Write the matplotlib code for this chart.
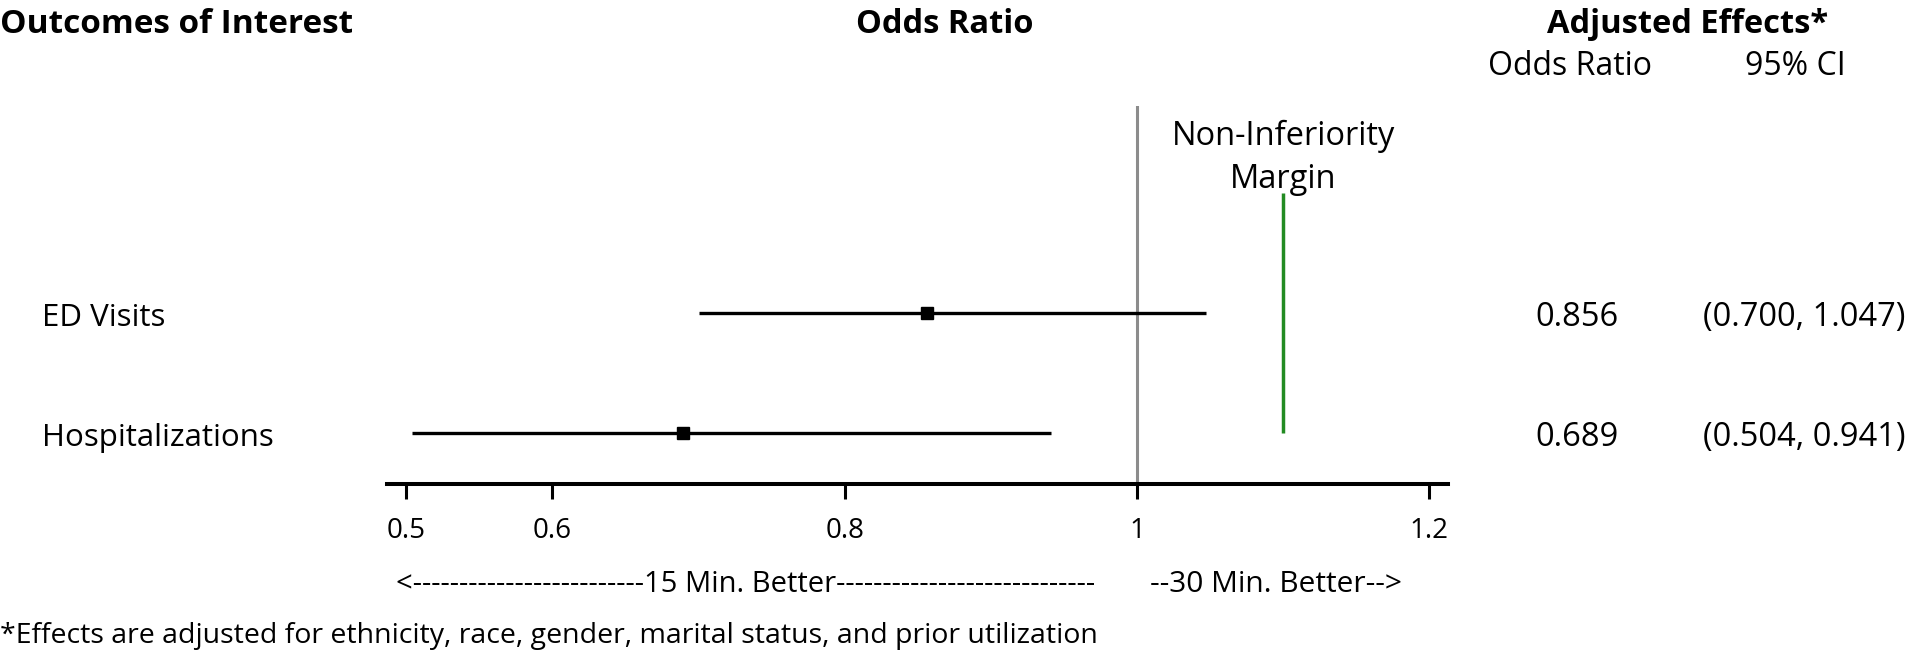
import matplotlib.pyplot as plt
from matplotlib.transforms import blended_transform_factory, offset_copy

plt.rcParams['font.family'] = ['Open Sans', 'DejaVu Sans']

# data
outcomes = ['ED Visits', 'Hospitalizations']
odds = [0.856, 0.689]
ci_low = [0.700, 0.504]
ci_high = [1.047, 0.941]
rows = [2, 1]
margin = 1.1
xticks = [0.5, 0.6, 0.8, 1, 1.2]
xticklabels = ['0.5', '0.6', '0.8', '1', '1.2']

W, H = 1912, 652
fig = plt.figure(figsize=(W / 100, H / 100), dpi=100)


def fx(px):
    return px / W


def fy(py):
    return 1 - py / H


ax = fig.add_axes([fx(387), fy(484), fx(1448) - fx(387), fy(106) - fy(484)])
ax.set_xlim(0.4868, 1.2128)
ax.set_ylim(0.571, 3.73)

ax.axvline(1, color='#8c8c8c', lw=2.2, zorder=1)
ax.plot([margin, margin], [1, 3], color='#228b22', lw=2.5, solid_capstyle='butt')

for r, o, lo, hi in zip(rows, odds, ci_low, ci_high):
    ax.plot([lo, hi], [r, r], color='black', lw=2.4, solid_capstyle='butt', zorder=2)
    ax.plot(o, r, 's', color='black', ms=8, zorder=3)

# margin label
trm = blended_transform_factory(ax.transData, fig.transFigure)
ax.text(margin, fy(145), 'Non-Inferiority', transform=trm, ha='center', va='baseline', fontsize=23.5)
ax.text(margin, fy(188), 'Margin', transform=trm, ha='center', va='baseline', fontsize=23.5)

for s in ['top', 'right', 'left']:
    ax.spines[s].set_visible(False)
ax.spines['bottom'].set_linewidth(2.9)
ax.set_yticks([])
ax.set_xticks(xticks)
ax.set_xticklabels(xticklabels, fontsize=20)
ax.tick_params(axis='x', length=10.8, width=2.2, pad=13)

# left labels and right columns (x in figure coords, y in data)
tr = blended_transform_factory(fig.transFigure, ax.transData)
trb = offset_copy(tr, fig=fig, y=-13, units='dots')
for r, name, o, lo, hi in zip(rows, outcomes, odds, ci_low, ci_high):
    ax.text(fx(42), r, name, transform=trb, ha='left', va='baseline', fontsize=22.5)
    ax.text(fx(1577), r, f'{o:.3f}', transform=trb, ha='center', va='baseline', fontsize=23.5)
    ax.text(fx(1703), r, f'({lo:.3f}, {hi:.3f})', transform=trb, ha='left', va='baseline', fontsize=23.5)

# headers
fig.text(fx(0), fy(33), 'Outcomes of Interest', fontsize=24, fontweight='bold', va='baseline')
fig.text(fx(945), fy(33), 'Odds Ratio', fontsize=23.5, fontweight='bold', va='baseline', ha='center')
fig.text(fx(1688), fy(33), 'Adjusted Effects*', fontsize=23.5, fontweight='bold', va='baseline', ha='center')
fig.text(fx(1570), fy(75), 'Odds Ratio', fontsize=23, va='baseline', ha='center')
fig.text(fx(1795), fy(75), '95% CI', fontsize=23, va='baseline', ha='center')

# direction labels and footnote
fig.text(fx(396), fy(592), '<' + '-' * 25 + '15 Min. Better' + '-' * 28,
         fontsize=21, va='baseline', ha='left')
fig.text(fx(1150), fy(592), '--30 Min. Better-->', fontsize=21.5, va='baseline', ha='left')
fig.text(fx(0), fy(643), '*Effects are adjusted for ethnicity, race, gender, marital status, and prior utilization',
         fontsize=20.5, va='baseline', ha='left')

fig.savefig('out.png', dpi=100)
